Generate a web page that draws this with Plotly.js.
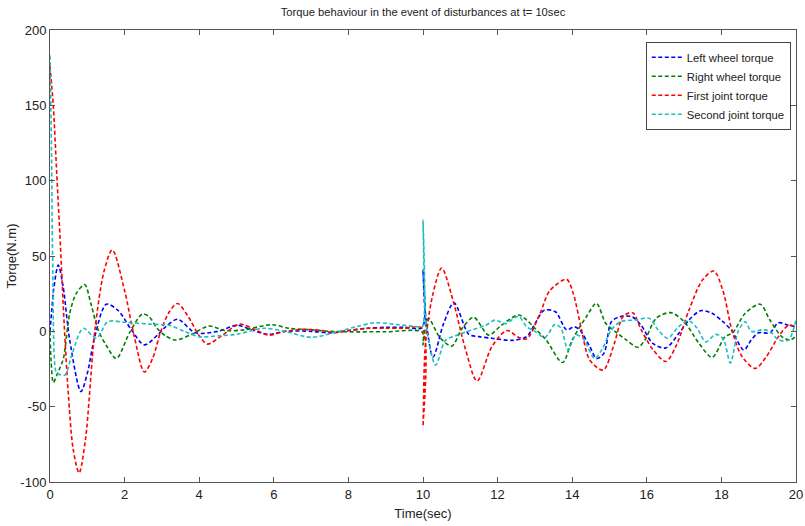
<!DOCTYPE html>
<html>
<head>
<meta charset="utf-8">
<script src="https://cdn.plot.ly/plotly-3.0.1.min.js"></script>
<style>html,body{margin:0;padding:0;background:#fff;}#chart{width:805px;height:526px;}</style>
</head>
<body>
<div id="chart"></div>
<script>
// Series names
const seriesNames = ["Left wheel torque", "Right wheel torque", "First joint torque", "Second joint torque"];

// Left wheel torque
const tLeft = [0, 0.05, 0.1, 0.22, 0.35, 0.53, 0.83, 1.0, 1.2, 1.51, 1.82, 2.17, 2.53, 2.9, 3.1, 3.42, 3.9, 4.5, 5.02, 5.4, 5.86, 6.3, 7.0, 7.5, 8.0, 8.5, 9.0, 9.5, 9.98, 10.0, 10.05, 10.27, 10.55, 10.83, 11.23, 11.5, 11.85, 12.38, 12.78, 13.0, 13.25, 13.55, 13.85, 14.05, 14.2, 14.47, 14.65, 14.85, 15.05, 15.27, 15.6, 15.85, 16.16, 16.51, 16.87, 17.13, 17.44, 17.75, 18.04, 18.29, 18.6, 18.8, 19.0, 19.3, 19.53, 19.8, 20];
const leftTorque = [0, 15, 28, 44, 30, -6, -40, -28, -3.5, 18, 14, 1.5, -9, -2, 3, 8, -1, 0, 4, 1, -2, 0, 0, -1, 0.5, 2, 2.7, 2.7, 2.5, 40.7, 15, -17, 5, 19, -2, -3.5, -4.6, -6, -3.5, 5, 14, 13, 1, 3, 1, -10, -18, -14.6, 6.4, 9.7, 9.7, 4, -8, -11, -1, 7.5, 13.7, 12, 6.4, 0, -12.4, -5.7, -1, -1, 5.7, 4, 3];

// Right wheel torque
const tRight = [0, 0.03, 0.09, 0.2, 0.27, 0.36, 0.53, 0.7, 0.93, 1.1, 1.29, 1.5, 1.78, 2.13, 2.48, 2.66, 2.87, 3.1, 3.37, 3.8, 4.26, 4.7, 5.2, 5.95, 6.4, 7.0, 7.5, 8.0, 9.0, 9.98, 10.0, 10.05, 10.15, 10.45, 10.77, 11.05, 11.36, 11.76, 12.1, 12.56, 12.78, 13.0, 13.3, 13.74, 14.0, 14.38, 14.65, 14.9, 15.2, 15.45, 15.76, 15.95, 16.25, 16.64, 17.0, 17.4, 17.75, 18.1, 18.3, 18.64, 19.04, 19.3, 19.62, 19.85, 20];
const rightTorque = [0, -20, -34, -28, -24, -18, 12, 25, 31, 18, 1, -9, -18, -1, 11.5, 9.7, 2, -3, -5.8, -2, 3.5, 0.5, 1, 4.4, 2, 1, 0, -0.3, -0.3, -0.5, -9, 0, 8.6, -4, -9.8, 2, 9.3, -2.5, 4, 10.8, 7.5, 2, -5.7, -20.7, -5.7, 9.7, 18.6, 5.3, -1, -5.7, -10.6, -5.7, 8.6, 12.4, 6.4, -8, -17.3, -3.5, -1, 12, 18, 7.5, -3.5, -5.7, -3];

// First joint torque
const tFirst = [0, 0.09, 0.18, 0.28, 0.38, 0.49, 0.62, 0.78, 0.95, 1.2, 1.45, 1.67, 2.0, 2.26, 2.53, 2.75, 2.97, 3.2, 3.42, 3.7, 4.0, 4.22, 4.6, 5.08, 5.5, 5.86, 6.3, 6.8, 7.3, 7.6, 8.0, 8.5, 9.0, 9.5, 9.98, 10.0, 10.06, 10.25, 10.5, 10.8, 11.14, 11.45, 11.85, 12.25, 12.56, 12.78, 13.14, 13.4, 13.85, 14.03, 14.25, 14.47, 14.83, 15.13, 15.36, 15.62, 15.85, 16.16, 16.51, 16.78, 17.13, 17.49, 17.8, 18.04, 18.29, 18.56, 18.91, 19.2, 19.53, 19.8, 20];
const firstTorque = [176, 149, 105, 57, 5, -41, -78, -94, -72, 0, 40, 54, 27, -3.5, -27, -18, 0, 13, 18.5, 10, -3, -8.5, -3, 4.8, 1, -2.5, 0, 1.3, 0.5, -1, 0.5, 2, 2, 2, 2, -63, -10, 23, 42, 21, -12, -33, -10, 0.5, -4, -5, 12, 27, 34.5, 25, 1, -19, -25.7, -8, 9.7, 12.4, 1, -12, -20, -10, 14, 34, 40, 27, 0, -17, -24.6, -17, -3.5, 4, 3];

// Second joint torque
const tSecond = [0, 0.04, 0.07, 0.15, 0.2, 0.4, 0.58, 0.89, 1.24, 1.55, 2.0, 2.66, 3.2, 3.6, 3.99, 4.5, 5.0, 5.73, 6.3, 7.0, 7.6, 8.2, 8.71, 9.3, 9.85, 9.98, 10.0, 10.04, 10.12, 10.34, 10.6, 10.87, 11.2, 11.68, 11.94, 12.2, 12.56, 12.78, 13.0, 13.27, 13.54, 13.7, 13.89, 14.1, 14.3, 14.6, 14.8, 15.05, 15.3, 15.7, 16.07, 16.3, 16.56, 16.85, 17.13, 17.35, 17.58, 17.85, 18.05, 18.24, 18.45, 18.64, 18.8, 19.1, 19.3, 19.53, 19.8, 20];
const secondTorque = [183, 120, 50, -26, -28, -29, -16, 2, -4.6, 6.4, 6, 4.8, 4, 0, -3.5, -3, -2, 2, 0, -4, -1, 3, 5.7, 4.5, 3, 3, 74, 25, -2, -22.5, -6, -3, 0, 4, 7.5, 5, 10, 3, 0, -4, 4.6, 2, -12.4, -2.4, -5, -18, -12, 1, 6.4, 7.5, 8.6, 1, -4.6, 3, 7, 2, -7, -2, -5, -21, 0, 6.4, 0, 1, 0, -5.7, -5.7, 7.5];

// Axis labels
const xTickVals = [0, 2, 4, 6, 8, 10, 12, 14, 16, 18, 20];
const yTickVals = [-100, -50, 0, 50, 100, 150, 200];

const colors = ["#0000ff", "#008000", "#ff0000", "#1cbfbf"];
const xs = [tLeft, tRight, tFirst, tSecond];
const ys = [leftTorque, rightTorque, firstTorque, secondTorque];

const traces = seriesNames.map((name, i) => ({
  x: xs[i], y: ys[i], name: name, type: "scatter", mode: "lines",
  line: {color: colors[i], width: 1.6, dash: "4px,2.5px", shape: "spline", smoothing: 0.85}
}));

const fam = "Liberation Sans Narrow, Arial Narrow, Liberation Sans, Arial, sans-serif";
const axisCommon = {
  showgrid: false, zeroline: false, showline: true, mirror: "ticks",
  linecolor: "#555", linewidth: 1, ticks: "inside", ticklen: 5, tickcolor: "#555",
  tickfont: {family: fam, size: 13, color: "#222"}
};

const layout = {
  width: 805, height: 526,
  margin: {l: 50, r: 9, t: 30, b: 44},
  paper_bgcolor: "#fff", plot_bgcolor: "#fff",
  font: {family: fam, size: 12, color: "#222"},
  title: {text: "Torque behaviour in the event of disturbances at t= 10sec", x: 0.5, xref: "paper", xanchor: "center", y: 0.985, yanchor: "top",
          font: {size: 11.2, color: "#222"}},
  xaxis: Object.assign({}, axisCommon, {range: [0, 20], tickvals: xTickVals, ticktext: xTickVals.map(String),
          title: {text: "Time(sec)", font: {size: 13}, standoff: 8}}),
  yaxis: Object.assign({}, axisCommon, {range: [-100, 200], tickvals: yTickVals, ticktext: yTickVals.map(String),
          automargin: true, title: {text: "Torqe(N.m)", font: {size: 13}, standoff: 0}}),
  legend: {x: 0.993, xanchor: "right", y: 0.974, yanchor: "top", bgcolor: "#fff", bordercolor: "#444", borderwidth: 1,
           font: {size: 11.3, color: "#222"}, tracegroupgap: 0, itemwidth: 30},
  showlegend: true
};

Plotly.newPlot("chart", traces, layout, {displayModeBar: false, staticPlot: true});
</script>
</body>
</html>
